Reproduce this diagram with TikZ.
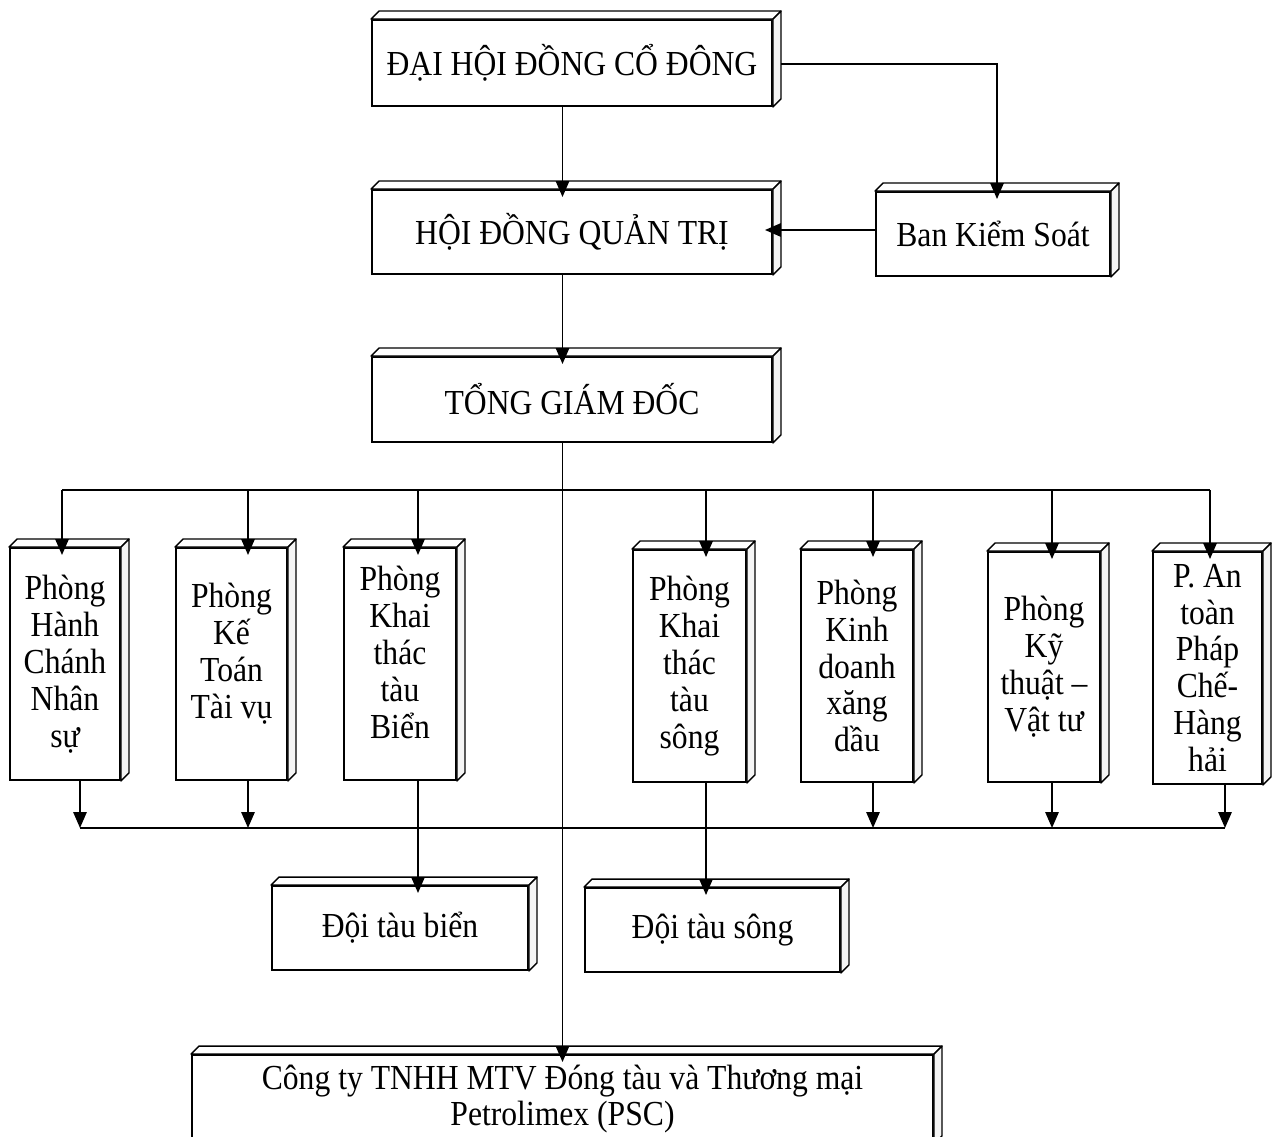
\documentclass[tikz,border=0pt]{standalone}
\usepackage{fontspec}
\setmainfont{Liberation Serif}[FakeStretch=0.9]
\usetikzlibrary{arrows.meta}
\newcommand\boxdep{0.16cm}
\begin{document}
\begin{tikzpicture}[
  >={Triangle[length=9pt,width=7.5pt]},
  orgbox/.style={draw=black, fill=white, line width=1.1pt, align=center, inner sep=1pt, font={\fontsize{20}{21}\selectfont}},
  orgtop/.style={draw=black, fill=white, line width=0.8pt, line join=round},
  orgside/.style={draw=black, fill=gray!8, line width=0.8pt, line join=round},
  orgedge/.style={->, draw=black, line width=1.1pt},
  orgline/.style={draw=black, line width=1.1pt},
  intop/.style={shorten >=-\boxdep}
]
\useasboundingbox (0,0) rectangle (25.44,-22.72);
\clip (0,0) rectangle (25.44,-22.72);
\node[orgbox, minimum width=8.0cm, minimum height=1.72cm] (dhd) at (11.44,-1.26) {ĐẠI HỘI ĐỒNG CỔ ĐÔNG};
\node[orgbox, minimum width=8.0cm, minimum height=1.68cm] (hdqt) at (11.44,-4.64) {HỘI ĐỒNG QUẢN TRỊ};
\node[orgbox, minimum width=4.68cm, minimum height=1.68cm] (bks) at (19.86,-4.68) {Ban Kiểm Soát};
\node[orgbox, minimum width=8.0cm, minimum height=1.70cm] (tgd) at (11.44,-7.99) {TỔNG GIÁM ĐỐC};
\node[orgbox, minimum width=2.20cm, minimum height=4.64cm] (p1) at (1.30,-13.28) {Phòng\\Hành\\Chánh\\Nhân\\sự};
\node[orgbox, minimum width=2.22cm, minimum height=4.64cm] (p2) at (4.63,-13.28) {Phòng\\Kế\\Toán\\Tài vụ\\[-0.2cm]};
\node[orgbox, minimum width=2.24cm, minimum height=4.64cm] (p3) at (8.00,-13.28) {Phòng\\Khai\\thác\\tàu\\Biển\\[-0.28cm]};
\node[orgbox, minimum width=2.26cm, minimum height=4.64cm] (p4) at (13.79,-13.32) {Phòng\\Khai\\thác\\tàu\\sông};
\node[orgbox, minimum width=2.24cm, minimum height=4.64cm] (p5) at (17.14,-13.32) {Phòng\\Kinh\\doanh\\xăng\\dầu};
\node[orgbox, minimum width=2.24cm, minimum height=4.60cm] (p6) at (20.88,-13.34) {Phòng\\Kỹ\\thuật --\\Vật tư};
\node[orgbox, minimum width=2.18cm, minimum height=4.64cm] (p7) at (24.15,-13.36) {P. An\\toàn\\Pháp\\Chế-\\Hàng\\hải};
\node[orgbox, minimum width=5.12cm, minimum height=1.68cm] (dtb) at (8.00,-18.56) {Đội tàu biển};
\node[orgbox, minimum width=5.10cm, minimum height=1.68cm] (dts) at (14.25,-18.60) {Đội tàu sông};
\node[orgbox, minimum width=14.82cm, minimum height=1.76cm] (psc) at (11.25,-21.98) {Công ty TNHH MTV Đóng tàu và Thương mại\\Petrolimex (PSC)};
\foreach \n in {dhd,hdqt,bks,tgd,p1,p2,p3,p4,p5,p6,p7,dtb,dts,psc} {
  \draw[orgtop] (\n.north west) -- ++(\boxdep,\boxdep) -- ([shift={(\boxdep,\boxdep)}]\n.north east) -- (\n.north east) -- cycle;
  \draw[orgside] (\n.north east) -- ++(\boxdep,\boxdep) -- ([shift={(\boxdep,\boxdep)}]\n.south east) -- (\n.south east) -- cycle;
}
\coordinate (bt) at (0,-9.80);
\coordinate (bb) at (0,-16.56);
\draw[orgedge, intop] ([yshift=-0.02cm, xshift=\boxdep]dhd.east) -| ([xshift=0.08cm]bks.north);
\draw[orgedge, shorten >=-\boxdep] ([yshift=0.08cm]bks.west) -- ([yshift=0.08cm]bks.west -| hdqt.east);
\draw[orgedge, intop] (dhd.south -| psc.north) -- (hdqt.north -| psc.north);
\draw[orgedge, intop] (hdqt.south -| psc.north) -- (tgd.north -| psc.north);
\draw[orgedge, intop] (tgd.south -| psc.north) -- (psc.north);
\draw[orgline] ([xshift=-0.06cm]p1.north |- bt) -- ([xshift=0.05cm]p7.north |- bt);
\draw[orgline] ([xshift=0.30cm]p1.south |- bb) -- ([xshift=0.35cm]p7.south |- bb);
\foreach \n/\topx in {p1/-0.06cm, p2/0.33cm, p3/0.36cm, p4/0.33cm, p5/0.32cm, p6/0.16cm, p7/0.05cm}
  \draw[orgedge, intop] ([xshift=\topx]\n.north |- bt) -- ([xshift=\topx]\n.north);
\foreach \n/\botx in {p1/0.30cm, p2/0.33cm, p5/0.32cm, p6/0.16cm, p7/0.35cm}
  \draw[orgedge] ([xshift=\botx]\n.south) -- ([xshift=\botx]\n.south |- bb);
\draw[orgedge, intop] ([xshift=0.36cm]p3.south) -- ([xshift=0.36cm]p3.south |- dtb.north);
\draw[orgedge, intop] ([xshift=0.33cm]p4.south) -- ([xshift=0.33cm]p4.south |- dts.north);
\end{tikzpicture}
\end{document}
